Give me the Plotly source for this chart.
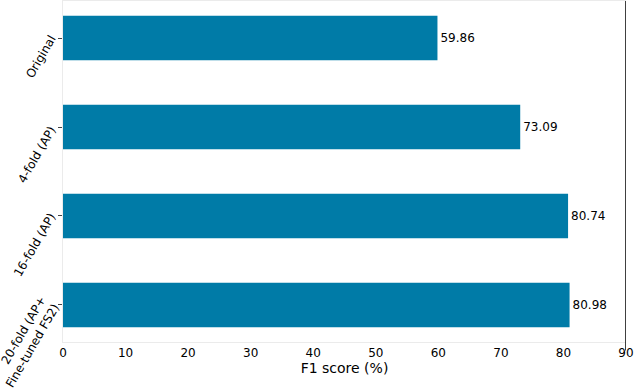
import plotly.graph_objects as go

categories = ["Original", "4-fold (AP)", "16-fold (AP)", "20-fold (AP+<br>Fine-tuned FS2)"]
f1_scores = [59.86, 73.09, 80.74, 80.98]
x_ticks = [0, 10, 20, 30, 40, 50, 60, 70, 80, 90]

fig = go.Figure()

fig.add_trace(go.Bar(
    y=categories,
    x=f1_scores,
    orientation='h',
    width=0.5,
    marker=dict(color='#007ba7', line=dict(width=0)),
    text=[f"{v:.2f}" for v in f1_scores],
    textposition='outside',
    cliponaxis=False,
    textfont=dict(color='black', size=12),
))

# black line at the right edge of the value range
fig.add_shape(type='line', xref='x', yref='paper', x0=90, x1=90, y0=-0.025, y1=1.0,
              line=dict(color='black', width=1.5), layer='above')

# rotated category labels: hang down-left from the tick, like matplotlib's ha='right'
label_shift = {  # (x, y) pixel offset of the label centre from the tick
    "Original": (-22.5, -18.5),
    "4-fold (AP)": (-26.5, -27.5),
    "16-fold (AP)": (-28, -29.5),
    "20-fold (AP+<br>Fine-tuned FS2)": (-37, -37),
}
for cat in categories:
    dx, dy = label_shift[cat]
    fig.add_annotation(
        x=0, xref='paper', y=cat, yref='y',
        text=cat, showarrow=False, textangle=-60,
        xanchor='center', yanchor='middle', align='right',
        xshift=dx, yshift=dy,
        font=dict(size=12, color='black'),
    )

fig.update_layout(
    template="plotly_white",
    width=634, height=388,
    margin=dict(l=63, r=8, t=1, b=46),
    font=dict(family="DejaVu Sans", size=12, color='black'),
    showlegend=False,
    plot_bgcolor='white',
    xaxis=dict(
        range=[0, 90], tickvals=x_ticks, showgrid=False, zeroline=False,
        showline=True, linecolor='#ebebeb', linewidth=1, mirror=True,
        ticks='', title=dict(text="F1 score (%)", standoff=2),
        tickfont=dict(size=12), automargin=False,
    ),
    yaxis=dict(
        range=[3.416, -0.416], showgrid=False, zeroline=False,
        showline=True, linecolor='#ebebeb', linewidth=1,
        ticks='outside', ticklen=4, tickcolor='#444',
        showticklabels=False, automargin=False,
    ),
)

# drop the default body margin so the figure sits at the window's corner
fig.write_html("out.html", config={'displayModeBar': False},
               post_script="document.body.style.margin='0px';")
